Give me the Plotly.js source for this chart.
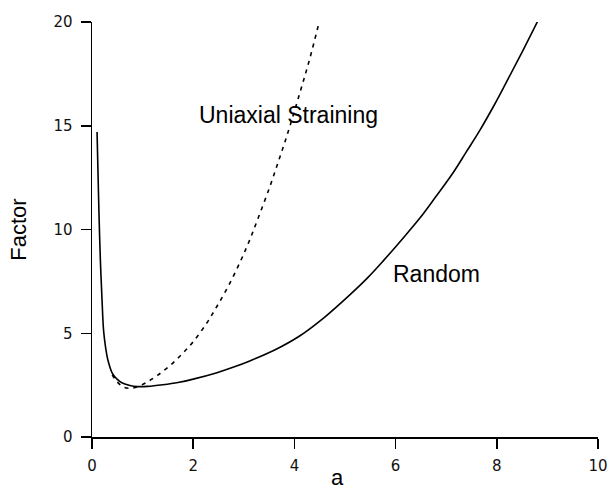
<!DOCTYPE html>
<html>
<head>
<meta charset="utf-8">
<script src="https://cdn.plot.ly/plotly-3.0.1.min.js"></script>
<style>html,body{margin:0;padding:0;background:#fff;}#chart{width:611px;height:491px;}</style>
</head>
<body>
<div id="chart"></div>
<script>
// Random orientation curve (solid)
const randomA = [0.10, 0.12, 0.14, 0.166, 0.20, 0.23, 0.27, 0.31, 0.40, 0.50, 0.60, 0.75, 0.90, 1.10, 1.40, 1.70, 2.00, 2.47, 2.80, 3.13, 3.60, 4.11, 4.60, 5.10, 5.45, 5.76, 6.10, 6.48, 6.80, 7.14, 7.40, 7.67, 7.95, 8.19, 8.50, 8.81];
const randomFactor = [14.7, 12.6, 10.6, 8.5, 6.5, 5.1, 4.3, 3.75, 3.08, 2.78, 2.60, 2.48, 2.43, 2.44, 2.52, 2.63, 2.79, 3.10, 3.37, 3.68, 4.18, 4.88, 5.78, 6.86, 7.68, 8.50, 9.45, 10.55, 11.6, 12.75, 13.75, 14.8, 16.0, 17.1, 18.55, 20.05];
// Uniaxial straining curve (dashed)
const uniA = [0.40, 0.50, 0.63, 0.75, 0.90, 1.09, 1.30, 1.55, 1.80, 2.01, 2.27, 2.47, 2.70, 2.93, 3.10, 3.26, 3.52, 3.70, 3.85, 4.11, 4.30, 4.49];
const uniFactor = [3.0, 2.65, 2.40, 2.35, 2.42, 2.65, 2.98, 3.46, 4.05, 4.62, 5.5, 6.3, 7.3, 8.45, 9.4, 10.4, 12.1, 13.4, 14.5, 16.6, 18.2, 20.0];
// Axis ticks
const xTicks = [0, 2, 4, 6, 8, 10];
const yTicks = [0, 5, 10, 15, 20];
// Curve labels
const labelText = ["Uniaxial Straining", "Random"];
const labelA = [3.88, 6.8];
const labelFactor = [15.5, 7.85];
const xTitle = "a";

const traces = [
  {x: randomA, y: randomFactor, mode: 'lines', type: 'scatter', name: 'Random',
   line: {color: '#000', width: 1.6, shape: 'spline', smoothing: 1}, hoverinfo: 'skip'},
  {x: uniA, y: uniFactor, mode: 'lines', type: 'scatter', name: 'Uniaxial Straining',
   line: {color: '#000', width: 1.6, dash: '4px,5px', shape: 'spline', smoothing: 1}, hoverinfo: 'skip'}
];

const axisCommon = {
  showline: true, linecolor: '#000', linewidth: 1.5,
  ticks: 'outside', ticklen: 10, tickwidth: 1.5, tickcolor: '#000',
  showgrid: false, zeroline: false,
  tickfont: {family: 'DejaVu Sans', size: 15, color: '#111'}
};

const annotations = labelText.map((t, i) => ({
  x: labelA[i], y: labelFactor[i], xref: 'x', yref: 'y', text: t, showarrow: false,
  font: {family: 'Liberation Sans', size: 23, color: '#000'}
}));
// x-axis title, placed low near the bottom edge as in the reference
annotations.push({
  x: 4.85, y: -0.097, xref: 'x', yref: 'paper', text: xTitle, showarrow: false,
  yanchor: 'middle', font: {family: 'Liberation Sans', size: 22, color: '#000'}
});

const layout = {
  width: 611, height: 491,
  margin: {l: 92, r: 13, t: 22, b: 54},
  paper_bgcolor: '#fff', plot_bgcolor: '#fff',
  showlegend: false,
  xaxis: Object.assign({}, axisCommon, {
    range: [0, 10], tickvals: xTicks, ticktext: xTicks.map(String),
    ticklabelstandoff: 4
  }),
  yaxis: Object.assign({}, axisCommon, {
    range: [0, 20], tickvals: yTicks, ticktext: yTicks.map(String),
    ticklabelstandoff: 5,
    title: {text: 'Factor', font: {family: 'Liberation Sans', size: 22, color: '#000'}, standoff: 20}
  }),
  annotations: annotations
};

Plotly.newPlot('chart', traces, layout, {displayModeBar: false, staticPlot: true});
</script>
</body>
</html>
